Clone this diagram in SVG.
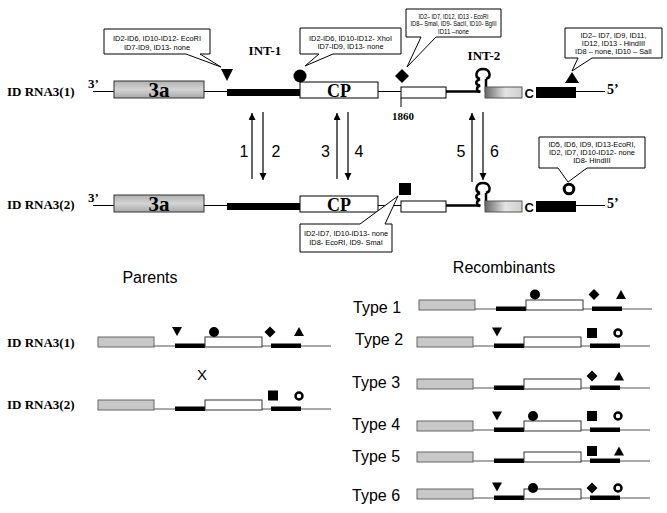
<svg xmlns="http://www.w3.org/2000/svg" xmlns:xlink="http://www.w3.org/1999/xlink" width="667" height="513" viewBox="0 0 667 513">
<style>
.lbl{font-family:"Liberation Serif",serif;font-weight:bold;fill:#000}
.sans{font-family:"Liberation Sans",Arial,sans-serif;fill:#000}
.call{font-family:"Liberation Sans",Arial,sans-serif;font-size:7.4px;fill:#000;text-anchor:middle}
.box{fill:#fff;stroke:#000;stroke-width:1}
.thin{stroke:#000;stroke-width:1;fill:none}
.arr{stroke:#000;stroke-width:1.2;fill:none;marker-end:url(#ah)}
.sgray{fill:#c8c8c8;stroke:#666;stroke-width:1}
.open{fill:#fff;stroke:#333;stroke-width:1}
.blk{fill:#000}
</style>
<defs>
<marker id="ah" markerUnits="userSpaceOnUse" markerWidth="8" markerHeight="8" refX="7" refY="3.5" orient="auto">
<path d="M0,0 L7,3.5 L0,7 Z" fill="#000"/>
</marker>
<linearGradient id="g2" x1="0" y1="0" x2="1" y2="0">
<stop offset="0" stop-color="#666"/>
<stop offset="0.55" stop-color="#e4e4e4"/>
<stop offset="1" stop-color="#cfcfcf"/>
</linearGradient>
<linearGradient id="g3a" x1="0" y1="0" x2="0" y2="1">
<stop offset="0" stop-color="#b0b0b0"/>
<stop offset="0.5" stop-color="#d4d4d4"/>
<stop offset="1" stop-color="#a8a8a8"/>
</linearGradient>
<g id="rna">
<line class="thin" x1="93" y1="91.5" x2="114" y2="91.5"/>
<rect x="114" y="81" width="90" height="17" fill="url(#g3a)" stroke="#333"/>
<line class="thin" x1="204" y1="91.5" x2="227" y2="91.5"/>
<rect class="blk" x="227" y="89" width="73" height="7"/>
<rect class="box" x="300" y="82" width="78" height="16"/>
<line class="thin" x1="378" y1="91.5" x2="401" y2="91.5"/>
<rect class="box" x="401" y="87" width="45" height="11"/>
<line x1="446" y1="91.5" x2="480.5" y2="91.5" stroke="#000" stroke-width="2.5"/>
<path d="M480,79 C474,77 476,69 483,69 C490,69 492,77 486,79 M480,79 C475,81 475,85 480,85.5 C476,87 476,91 480,92 M486,79 L486,92" fill="none" stroke="#000" stroke-width="2.5"/>
<rect x="485" y="87" width="37" height="11" fill="url(#g2)" stroke="#555"/>
<text class="sans" x="524.5" y="97.5" font-size="13" font-weight="bold">C</text>
<rect class="blk" x="536" y="87" width="40" height="11"/>
<line class="thin" x1="576" y1="91.5" x2="605" y2="91.5"/>
<text class="lbl" x="607" y="94" font-size="14">5’</text>
<text class="lbl" x="88" y="88" font-size="13">3’</text>
<text class="lbl" x="159" y="97" font-size="21" text-anchor="middle">3a</text>
<text class="lbl" x="339" y="97" font-size="18" text-anchor="middle">CP</text>
</g>
<g id="pmap">
<line x1="0" y1="0" x2="233" y2="0" stroke="#555" stroke-width="1"/>
<rect class="sgray" x="0" y="-9" width="56" height="10"/>
<rect class="blk" x="77" y="-2.5" width="30" height="4.5"/>
<rect class="open" x="107" y="-9" width="57" height="10"/>
<rect class="blk" x="173" y="-2.5" width="30" height="4.5"/>
</g>
<path id="sTd" d="M-5,-4.5 L5,-4.5 L0,4.5 Z" fill="#000"/>
<path id="sTu" d="M-5,4.5 L5,4.5 L0,-4.5 Z" fill="#000"/>
<circle id="sC" r="5" fill="#000"/>
<path id="sD" d="M0,-5.5 L5.5,0 L0,5.5 L-5.5,0 Z" fill="#000"/>
<rect id="sS" x="-5" y="-5" width="10" height="10" fill="#000"/>
<circle id="sR" r="3.5" fill="#fff" stroke="#000" stroke-width="2.5"/>
</defs>

<g id="row1">
<text class="lbl" x="7" y="96" font-size="13">ID RNA3(1)</text>
<use xlink:href="#rna"/>
<line class="thin" x1="401" y1="98" x2="401" y2="107"/>
<text class="lbl" x="403" y="120" font-size="11" text-anchor="middle">1860</text>
<text class="lbl" x="265" y="55" font-size="13" text-anchor="middle">INT-1</text>
<text class="lbl" x="484" y="60" font-size="13" text-anchor="middle">INT-2</text>
</g>

<g id="row2">
<text class="lbl" x="7" y="209" font-size="13">ID RNA3(2)</text>
<use xlink:href="#rna" transform="translate(0,114)"/>
</g>

<g id="markers-top">
<path d="M221,69 L233,69 L227,81 Z" fill="#000"/>
<circle cx="300" cy="76" r="6.5" fill="#000"/>
<path d="M402,69 L409,76 L402,83 L395,76 Z" fill="#000"/>
<path d="M565,83 L579,83 L572,72 Z" fill="#000"/>
<rect x="399" y="183" width="12" height="12" fill="#000"/>
<circle cx="569" cy="189" r="4.8" fill="#fff" stroke="#000" stroke-width="3"/>
</g>

<g id="callouts">
<path class="box" d="M104,29 H210 V54 H200 L221,67 L186,54 H104 Z"/>
<text class="call" x="157" y="41">ID2-ID6, ID10-ID12- EcoRI</text>
<text class="call" x="157" y="49.5">ID7-ID9, ID13- none</text>
<path class="box" d="M300,28 H401 V54 H333 L305,66 L319,54 H300 Z"/>
<text class="call" x="350.5" y="40.5">ID2-ID6, ID10-ID12- XhoI</text>
<text class="call" x="350.5" y="49">ID7-ID9, ID13- none</text>
<path class="box" d="M406,9 H501 V37 H436 L407,67 L421,37 H406 Z"/>
<text class="call" x="453.5" y="18.5" style="font-size:6.8px" textLength="70" lengthAdjust="spacingAndGlyphs">ID2– ID7, ID12, ID13 - EcoRI</text>
<text class="call" x="453.5" y="26" style="font-size:6.8px" textLength="86" lengthAdjust="spacingAndGlyphs">ID8– SmaI, ID9- SacII, ID10- BglII</text>
<text class="call" x="453.5" y="33.5" style="font-size:6.8px" textLength="31" lengthAdjust="spacingAndGlyphs">ID11 –none</text>
<path class="box" d="M565,28 H662 V58 H592 L572,71 L578,58 H565 Z"/>
<text class="call" x="613.5" y="37.5">ID2– ID7, ID9, ID11,</text>
<text class="call" x="613.5" y="45.5">ID12, ID13 - HindIII</text>
<text class="call" x="613.5" y="53.5">ID8 – none, ID10 – SalI</text>
<path class="box" d="M300,224 H360 L398,196 L385,224 H392 V252 H300 Z"/>
<text class="call" x="346" y="236">ID2-ID7, ID10-ID13- none</text>
<text class="call" x="346" y="245">ID8- EcoRI, ID9- SmaI</text>
<path class="box" d="M539,137 H645 V168 H587 L568,182 L558,168 H539 Z"/>
<text class="call" x="592" y="147">ID5, ID6, ID9, ID13-EcoRI,</text>
<text class="call" x="592" y="155">ID2, ID7, ID10-ID12- none</text>
<text class="call" x="592" y="163">ID8- HindIII</text>
</g>

<g id="connectors">
<line class="arr" x1="252" y1="179" x2="252" y2="113"/>
<line class="arr" x1="263" y1="112" x2="263" y2="180"/>
<line class="arr" x1="337" y1="179" x2="337" y2="113"/>
<line class="arr" x1="348" y1="112" x2="348" y2="180"/>
<line class="arr" x1="472" y1="182" x2="472" y2="113"/>
<line class="arr" x1="483" y1="112" x2="483" y2="180"/>
<text class="sans" x="244" y="157" font-size="16" text-anchor="middle">1</text>
<text class="sans" x="276" y="157" font-size="16" text-anchor="middle">2</text>
<text class="sans" x="325.5" y="157" font-size="16" text-anchor="middle">3</text>
<text class="sans" x="359" y="157" font-size="16" text-anchor="middle">4</text>
<text class="sans" x="461" y="157" font-size="16" text-anchor="middle">5</text>
<text class="sans" x="494.5" y="157" font-size="16" text-anchor="middle">6</text>
</g>

<g id="parents">
<text class="sans" x="150" y="283" font-size="16" text-anchor="middle">Parents</text>
<g id="parent1">
<text class="lbl" x="7" y="347" font-size="13">ID RNA3(1)</text>
<use xlink:href="#pmap" x="98" y="346"/>
<use xlink:href="#sTd" x="177" y="331.5"/>
<use xlink:href="#sC" x="214" y="332"/>
<use xlink:href="#sD" x="270" y="332"/>
<use xlink:href="#sTu" x="299" y="331.5"/>
</g>
<text class="sans" x="202" y="380" font-size="15" text-anchor="middle">X</text>
<g id="parent2">
<text class="lbl" x="7" y="409" font-size="13">ID RNA3(2)</text>
<use xlink:href="#pmap" x="98" y="409"/>
<use xlink:href="#sS" x="273" y="395.5"/>
<use xlink:href="#sR" x="299" y="396"/>
</g>
</g>

<g id="recombinants">
<text class="sans" x="504" y="273" font-size="16" text-anchor="middle">Recombinants</text>
<g id="type1">
<text class="sans" x="353" y="313" font-size="16">Type 1</text>
<use xlink:href="#pmap" x="419" y="309"/>
<use xlink:href="#sC" x="535" y="294.5"/>
<use xlink:href="#sD" x="594" y="294.5"/>
<use xlink:href="#sTu" x="621" y="294.5"/>
</g>
<g id="type2">
<text class="sans" x="355" y="345" font-size="16">Type 2</text>
<use xlink:href="#pmap" x="417" y="346"/>
<use xlink:href="#sTd" x="497" y="332"/>
<use xlink:href="#sS" x="592" y="333"/>
<use xlink:href="#sR" x="618" y="333"/>
</g>
<g id="type3">
<text class="sans" x="352" y="388" font-size="16">Type 3</text>
<use xlink:href="#pmap" x="417" y="388"/>
<use xlink:href="#sD" x="592" y="376"/>
<use xlink:href="#sTu" x="619" y="376"/>
</g>
<g id="type4">
<text class="sans" x="352" y="430" font-size="16">Type 4</text>
<use xlink:href="#pmap" x="417" y="430"/>
<use xlink:href="#sTd" x="497" y="416"/>
<use xlink:href="#sC" x="533" y="416"/>
<use xlink:href="#sS" x="592" y="416"/>
<use xlink:href="#sR" x="618" y="416"/>
</g>
<g id="type5">
<text class="sans" x="352" y="462" font-size="16">Type 5</text>
<use xlink:href="#pmap" x="417" y="461"/>
<use xlink:href="#sS" x="592" y="451"/>
<use xlink:href="#sTu" x="619" y="451"/>
</g>
<g id="type6">
<text class="sans" x="352" y="501" font-size="16">Type 6</text>
<use xlink:href="#pmap" x="417" y="498"/>
<use xlink:href="#sTd" x="497" y="487"/>
<use xlink:href="#sC" x="533" y="488"/>
<use xlink:href="#sD" x="592" y="488"/>
<use xlink:href="#sR" x="618" y="488"/>
</g>
</g>
</svg>
